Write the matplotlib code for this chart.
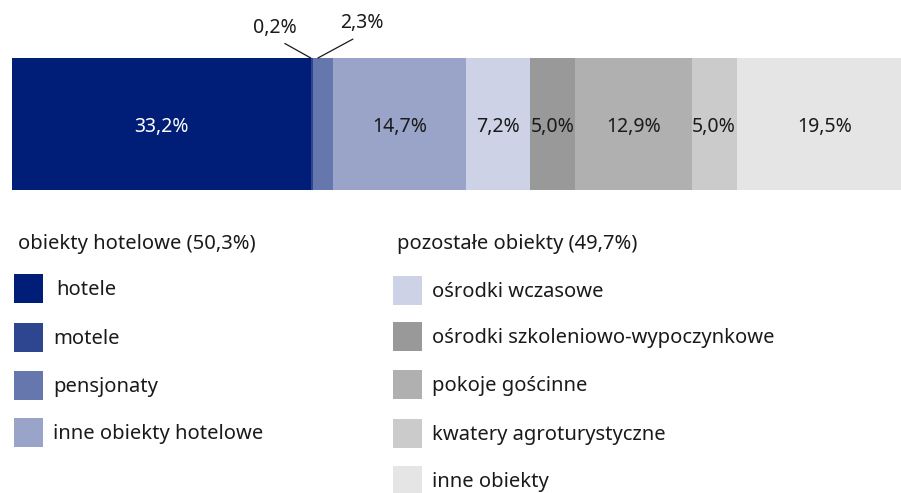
from matplotlib import pyplot as plt
from matplotlib.patches import Rectangle

# Struktura miejsc noclegowych (%)
categories = [
    "hotele",
    "motele",
    "pensjonaty",
    "inne obiekty hotelowe",
    "ośrodki wczasowe",
    "ośrodki szkoleniowo-wypoczynkowe",
    "pokoje gościnne",
    "kwatery agroturystyczne",
    "inne obiekty",
]
values = [33.2, 0.2, 2.3, 14.7, 7.2, 5.0, 12.9, 5.0, 19.5]
labels = ["33,2%", "0,2%", "2,3%", "14,7%", "7,2%", "5,0%", "12,9%", "5,0%", "19,5%"]
colors = [
    "#001d77", "#2e4590", "#6577ad", "#99a4c8", "#cdd2e6",
    "#999999", "#b0b0b0", "#cbcbcb", "#e5e5e5",
]
group_titles = ["obiekty hotelowe (50,3%)", "pozostałe obiekty (49,7%)"]
n_hotel = 4

plt.rcParams["font.family"] = ["Noto Sans", "DejaVu Sans"]
W, H = 901, 493
fig = plt.figure(figsize=(W / 100, H / 100), dpi=100)

# bar axes (pixel layout converted to figure fractions)
ax = fig.add_axes([12 / W, (H - 190) / H, 900 / W, 132 / H])
ax.set_xlim(0, 100)
ax.set_ylim(-0.5, 0.5)
ax.axis("off")

left = 0.0
for i, (v, c, lab) in enumerate(zip(values, colors, labels)):
    ax.barh(0, v, left=left, height=1.0, color=c, edgecolor="none")
    if i not in (1, 2):
        ax.text(left + v / 2, -0.02, lab, ha="center", va="center", fontsize=14,
                color="white" if i == 0 else "#1a1a1a")
    left += v

# legend and outside labels drawn in pixel space
lg = fig.add_axes([0, 0, 1, 1])
lg.set_xlim(0, W)
lg.set_ylim(H, 0)
lg.axis("off")

# small segments: labels above the bar with leader lines
x_mot = 12 + 9.0 * values[0]
x_pen = 12 + 9.0 * (values[0] + values[1] + values[2] / 2)
lg.annotate(labels[1], xy=(x_mot, 58), xytext=(275, 38), ha="center", va="bottom",
            fontsize=14, color="#1a1a1a",
            arrowprops=dict(arrowstyle="-", color="#1a1a1a", lw=0.9,
                            shrinkA=4, shrinkB=0, relpos=(0.5, 0)))
lg.annotate(labels[2], xy=(x_pen - 5, 58), xytext=(362, 33), ha="center", va="bottom",
            fontsize=14, color="#1a1a1a",
            arrowprops=dict(arrowstyle="-", color="#1a1a1a", lw=0.9,
                            shrinkA=5, shrinkB=0, relpos=(0.55, 0)))

lg.text(18, 244, group_titles[0], ha="left", va="center", fontsize=14.5, color="#1a1a1a")
lg.text(397, 244, group_titles[1], ha="left", va="center", fontsize=14.5, color="#1a1a1a")

left_rows = [288, 337, 385, 432]
right_rows = [290, 336, 384, 433, 480]
for i, name in enumerate(categories):
    if i < n_hotel:
        x0, y = 14, left_rows[i]
        tx = 56 if i == 0 else 53
    else:
        x0, y = 393, right_rows[i - n_hotel]
        tx = 432
    lg.add_patch(Rectangle((x0, y - 14.5), 29, 29, facecolor=colors[i], edgecolor="none"))
    lg.text(tx, y + 2, name, ha="left", va="center", fontsize=14.5, color="#1a1a1a")

fig.savefig("out.png", dpi=100)
